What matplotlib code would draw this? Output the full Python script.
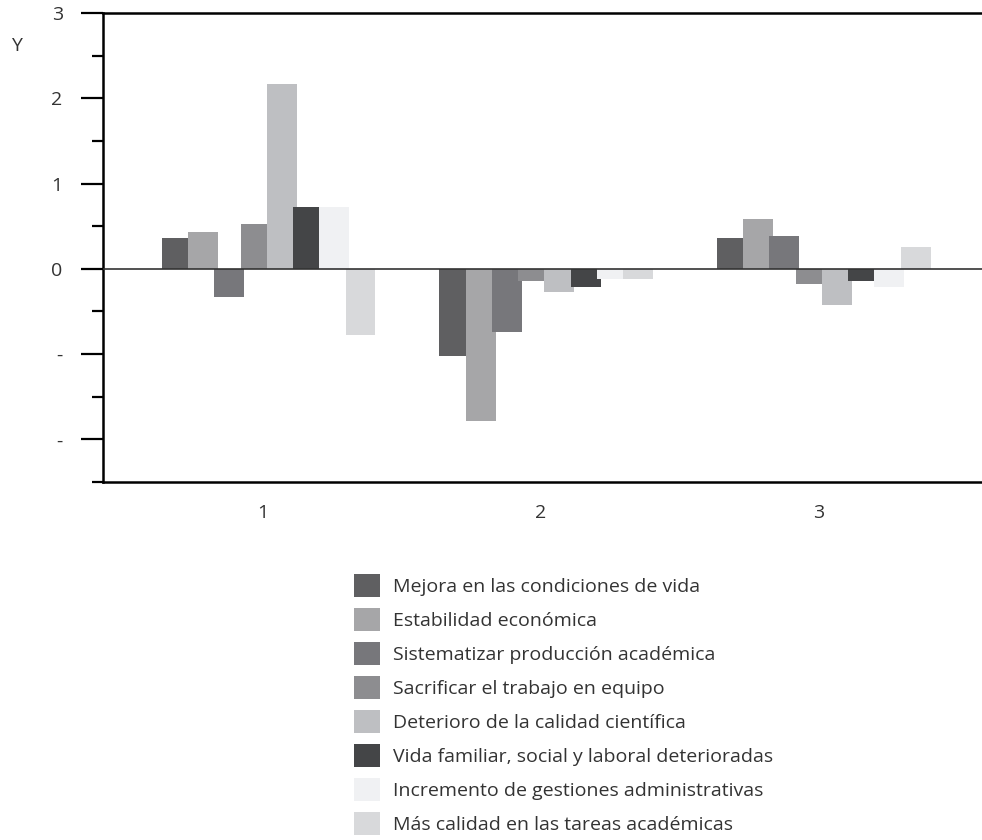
import numpy as np
import matplotlib
matplotlib.use("Agg")
from matplotlib import pyplot as plt
from matplotlib.patches import Patch

plt.rcParams['font.family'] = ['Open Sans', 'DejaVu Sans']

grupos = [1, 2, 3]
series = ["Mejora en las condiciones de vida",
          "Estabilidad económica",
          "Sistematizar producción académica",
          "Sacrificar el trabajo en equipo",
          "Deterioro de la calidad científica",
          "Vida familiar, social y laboral deterioradas",
          "Incremento de gestiones administrativas",
          "Más calidad en las tareas académicas"]
colores = ["#5f5f61", "#a6a6a8", "#77777b", "#8d8d90",
           "#bebfc2", "#444547", "#f0f1f3", "#d8d9db"]

# valores por serie (grupo 1, 2, 3)
mejora = [0.36, -1.02, 0.36]
estabilidad = [0.43, -1.78, 0.58]
sistematizar = [-0.33, -0.74, 0.39]
sacrificar = [0.52, -0.14, -0.18]
deterioro = [2.17, -0.27, -0.42]
vida = [0.73, -0.21, -0.14]
gestiones = [0.73, -0.12, -0.21]
calidad = [-0.78, -0.12, 0.26]
valores = [mejora, estabilidad, sistematizar, sacrificar,
           deterioro, vida, gestiones, calidad]

yticks = [3, 2, 1, 0, -1, -2]
yticklabels = ["3", "2", "1", "0", "-", "-"]

fig = plt.figure(figsize=(9.82, 8.4), dpi=100)
ax = fig.add_axes((103/982, 1-482/840, 879/982, 469/840))

x = np.array(grupos, dtype=float)
paso = 0.0945
ancho = 0.108
for i, (vals, col) in enumerate(zip(valores, colores)):
    ax.bar(x + 0.02 + (i - 3.5)*paso, vals, ancho, color=col, linewidth=0)

ax.axhline(0, color="#333333", lw=1.2, zorder=3)

ax.set_xlim(0.423, 3.59)
ax.set_ylim(-2.5, 3)
ax.set_yticks(yticks)
ax.set_yticklabels(yticklabels)
ax.set_yticks(np.arange(-2.5, 3, 1.0), minor=True)
ax.set_xticks(grupos)
ax.set_xticklabels([str(g) for g in grupos])

ax.tick_params(axis='y', which='major', length=16, width=1.6, pad=13,
               labelsize=14, labelcolor="#333333", color="black")
ax.tick_params(axis='y', which='minor', length=8, width=1.6, color="black")
ax.tick_params(axis='x', length=0, pad=16, labelsize=14, labelcolor="#333333")

for s in ["left", "top", "bottom"]:
    ax.spines[s].set_linewidth(1.8)
ax.spines["right"].set_visible(False)

fig.text(16/982, 1-46/840, "Y", fontsize=14, color="#333333",
         ha="center", va="center")

handles = [Patch(facecolor=c, edgecolor='none') for c in colores]
fig.legend(handles, series, loc="upper left",
           bbox_to_anchor=(354/982, 1-574/840), frameon=False,
           fontsize=14, handlelength=1.34, handleheight=1.45,
           handletextpad=0.67, labelspacing=0.56, labelcolor="#333333",
           borderaxespad=0, borderpad=0)

plt.savefig("out.png", dpi=100)
